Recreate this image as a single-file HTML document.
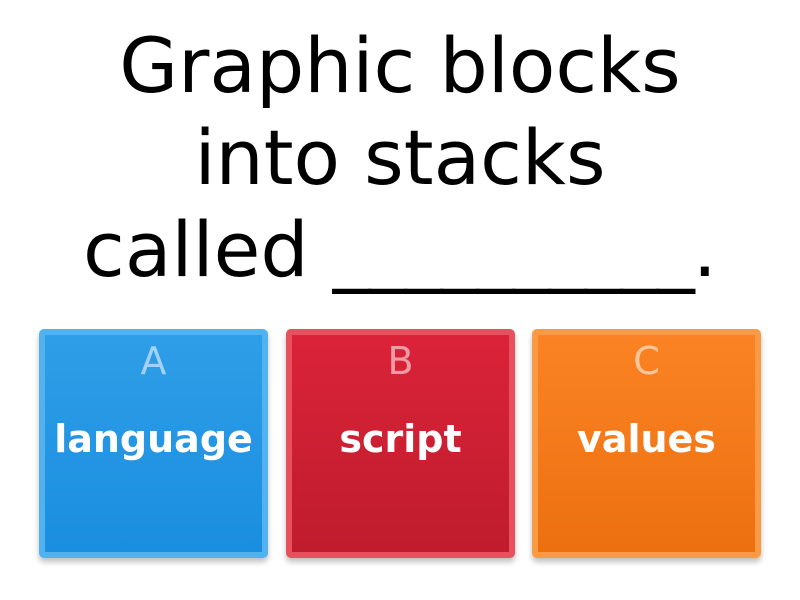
<!DOCTYPE html>
<html><head><style>
body{margin:0;width:800px;height:600px;background:#fff;overflow:hidden;font-family:"DejaVu Sans","Liberation Sans",sans-serif;}
.t{position:absolute;left:0;width:800px;top:20px;text-align:center;font-size:76px;line-height:92px;color:#000;}
.u{letter-spacing:-2px}
.b{position:absolute;top:329px;width:229px;height:229px;border-radius:5px;box-shadow:0 4px 6px rgba(0,0,0,.25)}
.b .in{position:absolute;left:6px;top:6px;right:6px;bottom:6px}
.l{position:absolute;top:10px;width:100%;text-align:center;font-size:38px;color:rgba(255,255,255,.55)}
.w{position:absolute;top:88px;width:100%;text-align:center;font-size:38px;font-weight:bold;color:#fff}
</style></head><body>
<div class="t">Graphic blocks<br>into stacks<br>called <span class="u">__________</span>.</div>
<div class="b" style="left:39px;background:#52b2ef"><div class="in" style="background:linear-gradient(#2f9ee8,#1a8edf)"></div><div class="l">A</div><div class="w">language</div></div>
<div class="b" style="left:286px;background:#e8505f"><div class="in" style="background:linear-gradient(#db2338,#bf1c2e)"></div><div class="l">B</div><div class="w">script</div></div>
<div class="b" style="left:532px;background:#fb9a45"><div class="in" style="background:linear-gradient(#fb8324,#ec7010)"></div><div class="l">C</div><div class="w">values</div></div>
</body></html>
